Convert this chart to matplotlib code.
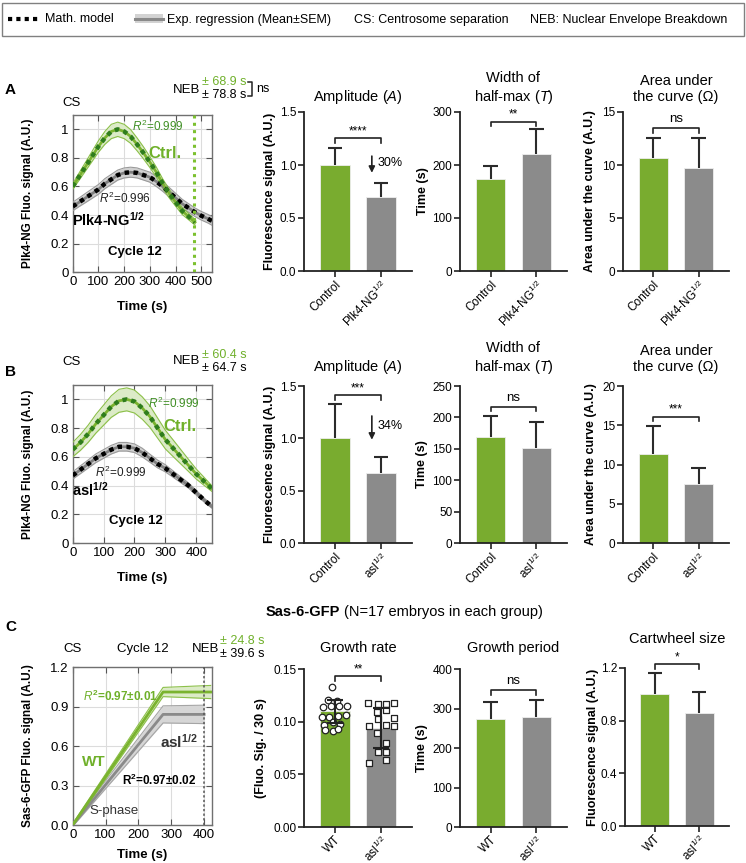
import numpy as np
import matplotlib
matplotlib.use("Agg")
import matplotlib.pyplot as plt
from matplotlib.lines import Line2D
from matplotlib.patches import Rectangle
from matplotlib.ticker import FuncFormatter, FormatStrFormatter

plt.rcParams['font.family'] = ['Liberation Sans', 'DejaVu Sans']
plt.rcParams['mathtext.fontset'] = 'custom'
plt.rcParams['mathtext.rm'] = 'Liberation Sans'
plt.rcParams['mathtext.it'] = 'Liberation Sans:italic'
plt.rcParams['mathtext.bf'] = 'Liberation Sans:bold'

# =========================
# DATA
# =========================
# A: Plk4-NG, control vs Plk4-NG^1/2
t_a_ctrl = [0, 25, 50, 75, 100, 125, 150, 175, 200, 225, 250, 275, 300, 325, 350,
            375, 400, 425, 450, 475]
y_a_ctrl = [0.60, 0.67, 0.74, 0.81, 0.88, 0.94, 0.985, 1.00, 0.985, 0.95, 0.895,
            0.835, 0.77, 0.70, 0.62, 0.55, 0.49, 0.43, 0.39, 0.35]
sem_a_ctrl = [0.02, 0.025, 0.03, 0.035, 0.04, 0.045, 0.05, 0.05, 0.05, 0.048, 0.045,
              0.042, 0.038, 0.035, 0.032, 0.03, 0.028, 0.025, 0.022, 0.02]
t_a_mut = [0, 25, 50, 75, 100, 125, 150, 175, 200, 225, 250, 275, 300, 325, 350,
           375, 400, 425, 450, 475, 500, 525, 540]
y_a_mut = [0.46, 0.49, 0.52, 0.55, 0.58, 0.62, 0.65, 0.68, 0.695, 0.70, 0.695, 0.68,
           0.665, 0.635, 0.60, 0.56, 0.52, 0.48, 0.45, 0.42, 0.395, 0.375, 0.36]
sem_a_mut = [0.03, 0.03, 0.032, 0.033, 0.034, 0.035, 0.035, 0.035, 0.035, 0.035, 0.035,
             0.035, 0.035, 0.035, 0.034, 0.033, 0.032, 0.031, 0.03, 0.03, 0.03, 0.03, 0.03]

# B: Plk4-NG, control vs asl^1/2
t_b = [0, 25, 50, 75, 100, 125, 150, 175, 200, 225, 250, 275, 300, 325, 350, 375,
       400, 425, 450]
y_b_ctrl = [0.65, 0.70, 0.76, 0.83, 0.89, 0.95, 0.99, 1.00, 0.985, 0.94, 0.88, 0.80,
            0.72, 0.66, 0.60, 0.54, 0.48, 0.43, 0.38]
sem_b_ctrl = [0.05, 0.055, 0.06, 0.065, 0.07, 0.075, 0.08, 0.08, 0.08, 0.078, 0.075,
              0.07, 0.065, 0.058, 0.05, 0.042, 0.035, 0.028, 0.02]
y_b_mut = [0.47, 0.51, 0.55, 0.59, 0.62, 0.65, 0.67, 0.67, 0.66, 0.63, 0.59, 0.55,
           0.52, 0.48, 0.44, 0.40, 0.35, 0.30, 0.255]
sem_b_mut = [0.025, 0.027, 0.028, 0.03, 0.03, 0.03, 0.03, 0.03, 0.03, 0.03, 0.028,
             0.027, 0.025, 0.022, 0.02, 0.018, 0.016, 0.014, 0.012]

# C: Sas-6-GFP, WT vs asl^1/2
t_c_wt = [0, 275, 420]
y_c_wt = [0.0, 1.01, 1.01]
sem_c_wt = [0.01, 0.035, 0.05]
t_c_mut = [0, 275, 400]
y_c_mut = [0.0, 0.84, 0.84]
sem_c_mut = [0.01, 0.065, 0.07]

# bar charts
amp_a, amp_a_err = [1.00, 0.70], [0.16, 0.13]
width_a, width_a_err = [173, 220], [25, 47]
area_a, area_a_err = [10.65, 9.7], [1.85, 2.8]
amp_b, amp_b_err = [1.00, 0.67], [0.33, 0.15]
width_b, width_b_err = [169, 151], [33, 41]
area_b, area_b_err = [11.3, 7.5], [3.6, 2.1]
rate_c, rate_c_err = [0.110, 0.094], [0.011, 0.019]
period_c, period_c_err = [273, 278], [43, 43]
size_c, size_c_err = [1.00, 0.86], [0.16, 0.155]

# growth rate, individual embryos
rate_wt_pts = [0.1326, 0.1205, 0.1196, 0.1142, 0.1148, 0.1151, 0.1151, 0.1047, 0.1047,
               0.1056, 0.106, 0.0967, 0.0999, 0.0977, 0.092, 0.0913, 0.0935]
rate_wt_dx = [-0.06, -0.15, 0.04, -0.25, -0.09, 0.09, 0.26, -0.28, -0.12, 0.06, 0.24,
              -0.24, -0.05, 0.10, -0.21, -0.05, 0.07]
rate_mut_pts = [0.1173, 0.1167, 0.1164, 0.1173, 0.1094, 0.111, 0.103, 0.1037, 0.0958,
                0.0967, 0.0958, 0.0888, 0.080, 0.0714, 0.0714, 0.0612, 0.064]
rate_mut_dx = [-0.28, -0.07, 0.11, 0.27, -0.08, 0.11, -0.07, 0.27, -0.26, 0.11, 0.27,
               -0.08, 0.11, -0.07, 0.11, -0.26, 0.10]

labels_a = ['Control', 'Plk4-NG$^{1/2}$']
labels_b = ['Control', 'asl$^{1/2}$']
labels_c = ['WT', 'asl$^{1/2}$']

# =========================
# STYLE
# =========================
GREEN = '#79ac2f'
GREEN_TXT = '#6fb02a'
DKGREEN = '#2f7d1c'
GRAY = '#8b8b8b'
W, H = 746, 863

fig = plt.figure(figsize=(W / 100, H / 100), dpi=100)


def px_axes(x0, y0, x1, y1):
    return fig.add_axes([x0 / W, 1 - y1 / H, (x1 - x0) / W, (y1 - y0) / H])


def ftext(x, y, s, **kw):
    kw.setdefault('va', 'center')
    fig.text(x / W, 1 - y / H, s, **kw)


def fline(xs, ys, **kw):
    fig.add_artist(Line2D([x / W for x in xs], [1 - y / H for y in ys],
                          transform=fig.transFigure, **kw))


def line_axes(rect, xlim, xticks, ylim, yticks, yfmt, ylabel, xlabel_y, fs=9.5):
    ax = px_axes(*rect)
    ax.set_xlim(*xlim)
    ax.set_ylim(*ylim)
    ax.set_xticks(xticks)
    ax.set_yticks(yticks)
    ax.yaxis.set_major_formatter(yfmt)
    for s in ax.spines.values():
        s.set_color('#707070')
        s.set_linewidth(1.0)
    ax.tick_params(direction='in', top=True, right=True, length=4, width=0.8,
                   color='#555555', labelsize=fs, pad=3)
    ax.grid(True, color='#dcdcdc', lw=0.8)
    ax.set_axisbelow(True)
    ax.set_ylabel(ylabel, fontweight='bold', fontsize=8.5, va='center')
    ax.yaxis.set_label_coords((28 - rect[0]) / (rect[2] - rect[0]), 0.5)
    ax.set_xlabel('Time (s)', fontweight='bold', fontsize=9.5, va='center')
    ax.xaxis.set_label_coords(0.5, -(xlabel_y - rect[3]) / (rect[3] - rect[1]))
    return ax


def curve(ax, t, y, sem, line_c, band_c, edge_c, model_c=None):
    t, y, s = np.array(t), np.array(y), np.array(sem)
    ax.fill_between(t, y - s, y + s, color=band_c, lw=0, zorder=2)
    ax.plot(t, y - s, color=edge_c, lw=0.8, zorder=3)
    ax.plot(t, y + s, color=edge_c, lw=0.8, zorder=3)
    ax.plot(t, y, color=line_c, lw=2, zorder=4)
    if model_c:
        ax.plot(t, y, color=model_c, lw=3.2, ls=(0, (1, 1)), zorder=5)


def bracket(ax, y, txt, top):
    d = 0.03 * top
    ax.plot([0, 0, 1, 1], [y - d, y, y, y - d], color='#222222', lw=1.2,
            clip_on=False, zorder=5)
    if txt == 'ns':
        ax.text(0.5, y + 0.02 * top, txt, ha='center', va='bottom', fontsize=9.5)
    else:
        ax.text(0.5, y + 0.005 * top, txt, ha='center', va='bottom', fontsize=8.5)


def bar_axes(rect, vals, errs, ylim, yticks, fmt, ylabel, ylabel_x, title, labels,
             sig, sig_y, title_pad=8, two_sided=False, xfs=8.5):
    ax = px_axes(*rect)
    x = np.arange(2)
    vals, errs = np.array(vals), np.array(errs)
    ax.bar(x, vals, width=0.65, color=[GREEN, GRAY], edgecolor='#eeeeee', lw=0.6,
           zorder=2)
    if two_sided:
        ax.vlines(x, vals - errs, vals + errs, color='#222222', lw=1.5, zorder=6)
        ax.hlines(vals - errs, x - 0.18, x + 0.18, color='#222222', lw=1.5, zorder=6)
        ax.hlines(vals + errs, x - 0.18, x + 0.18, color='#222222', lw=1.5, zorder=6)
    else:
        ax.vlines(x, vals, vals + errs, color='#2b2b2b', lw=1.5, zorder=3)
        ax.hlines(vals + errs, x - 0.16, x + 0.16, color='#2b2b2b', lw=1.5, zorder=3)
    ax.set_xlim(-0.67, 1.67)
    ax.set_ylim(*ylim)
    ax.set_yticks(yticks)
    ax.yaxis.set_major_formatter(FormatStrFormatter(fmt))
    ax.set_xticks(x)
    ax.set_xticklabels(labels, rotation=45, ha='right', rotation_mode='anchor',
                       fontsize=xfs)
    for side in ('top', 'right'):
        ax.spines[side].set_visible(False)
    for side in ('left', 'bottom'):
        ax.spines[side].set_linewidth(1.3)
        ax.spines[side].set_color('#222222')
    ax.tick_params(direction='out', length=4, width=1.2, color='#222222',
                   labelsize=8.5, pad=1.5)
    ax.tick_params(axis='x', pad=1 if xfs < 8 else 1.5)
    ax.set_ylabel(ylabel, fontweight='bold', fontsize=9, va='center')
    ax.yaxis.set_label_coords((ylabel_x - rect[0]) / (rect[2] - rect[0]), 0.5)
    ax.set_title(title, fontsize=10.5, pad=title_pad)
    bracket(ax, sig_y, sig, ylim[1])
    return ax


# =========================
# KEY BOX
# =========================
fig.add_artist(Rectangle((2 / W, 1 - 36 / H), 742 / W, 33 / H, transform=fig.transFigure,
                         fill=False, edgecolor='#808080', lw=1))
fline([8, 40], [19, 19], color='black', lw=3, ls=(0, (1, 1)))
ftext(45, 19.5, 'Math. model', fontsize=9)
fig.add_artist(Rectangle((135 / W, 1 - 23.5 / H), 28 / W, 9 / H, transform=fig.transFigure,
                         color='#d3d3d3', lw=0))
fline([135, 163], [19, 19], color='#8a8a8a', lw=2.2)
ftext(167, 19.5, 'Exp. regression (Mean±SEM)', fontsize=9)
ftext(354, 19.5, 'CS: Centrosome separation', fontsize=9)
ftext(530, 19.5, 'NEB: Nuclear Envelope Breakdown', fontsize=9)

gfmt = FuncFormatter(lambda v, p: f'{v:g}')

# =========================
# PANEL A
# =========================
rect = (72.7, 115, 211.7, 272.3)
ax = line_axes(rect, (0, 540), [0, 100, 200, 300, 400, 500], (0, 1.1),
               [0, 0.2, 0.4, 0.6, 0.8, 1.0], gfmt, 'Plk4-NG Fluo. signal (A.U.)', 307)
curve(ax, t_a_mut, y_a_mut, sem_a_mut, '#808080', '#d0d0d0', '#9a9a9a', 'black')
curve(ax, t_a_ctrl, y_a_ctrl, sem_a_ctrl, '#7ab32f', '#dcebc7', '#8cc049', DKGREEN)
ax.axvline(470, color='#7cc12f', lw=2.2, ls=(0, (1, 1.4)), zorder=6)
ax.text(330, 1.02, '$R^2$=0.999', color='#3f8f24', fontsize=8.5, ha='center', va='center')
ax.text(358, 0.83, 'Ctrl.', color=GREEN_TXT, fontsize=12, fontweight='bold',
        ha='center', va='center')
ax.text(203, 0.52, '$R^2$=0.996', color='#222222', fontsize=8.5, ha='center', va='center')
ax.text(137, 0.37, r'Plk4-NG$^{\mathbf{1/2}}$', fontsize=10.5, fontweight='bold',
        ha='center', va='center')
ax.text(241, 0.14, 'Cycle 12', fontsize=9.5, fontweight='bold', ha='center', va='center')

ftext(5, 90, 'A', fontsize=11, fontweight='bold')
ftext(72, 103, 'CS', fontsize=9.5, ha='center')
ftext(200, 90, 'NEB', fontsize=9.5, ha='right')
ftext(202, 82, '± 68.9 s', fontsize=9, color=GREEN_TXT)
ftext(202, 95, '± 78.8 s', fontsize=9)
fline([248, 252, 252, 248], [82, 82, 96, 96], color='#222222', lw=1.1)
ftext(256, 89, 'ns', fontsize=9)

bar_axes((304, 112, 412, 271), amp_a, amp_a_err, (0, 1.5), [0, 0.5, 1.0, 1.5], '%.1f',
         'Fluorescence signal (A.U.)', 270, 'Amplitude ($A$)', labels_a, '****', 1.25)
axa = fig.axes[-1]
axa.annotate('', xy=(0.8, 0.9), xytext=(0.8, 1.11),
             arrowprops=dict(arrowstyle='-|>', color='#222222', lw=1.2, mutation_scale=9))
axa.text(0.92, 1.02, '30%', fontsize=9, va='center')
bar_axes((460, 112, 567, 271), width_a, width_a_err, (0, 300), [0, 100, 200, 300], '%d',
         'Time (s)', 423, 'Width of\nhalf-max ($T$)', labels_a, '**', 282)
bar_axes((623, 112, 729, 271), area_a, area_a_err, (0, 15), [0, 5, 10, 15], '%d',
         'Area under the curve (A.U.)', 590, 'Area under\nthe curve (Ω)', labels_a,
         'ns', 13.5)

# =========================
# PANEL B
# =========================
rect = (72.7, 385, 211.7, 543)
ax = line_axes(rect, (0, 450), [0, 100, 200, 300, 400], (0, 1.1),
               [0, 0.2, 0.4, 0.6, 0.8, 1.0], gfmt, 'Plk4-NG Fluo. signal (A.U.)', 578)
curve(ax, t_b, y_b_mut, sem_b_mut, '#808080', '#d0d0d0', '#9a9a9a', 'black')
curve(ax, t_b, y_b_ctrl, sem_b_ctrl, '#7ab32f', '#dcebc7', '#8cc049', DKGREEN)
ax.text(329, 0.975, '$R^2$=0.999', color='#3f8f24', fontsize=8.5, ha='center', va='center')
ax.text(347, 0.81, 'Ctrl.', color=GREEN_TXT, fontsize=12, fontweight='bold',
        ha='center', va='center')
ax.text(156, 0.49, '$R^2$=0.999', color='#222222', fontsize=8.5, ha='center', va='center')
ax.text(56, 0.37, r'asl$^{\mathbf{1/2}}$', fontsize=10.5, fontweight='bold',
        ha='center', va='center')
ax.text(205, 0.15, 'Cycle 12', fontsize=9.5, fontweight='bold', ha='center', va='center')

ftext(5, 372, 'B', fontsize=11, fontweight='bold')
ftext(72, 362, 'CS', fontsize=9.5, ha='center')
ftext(200, 361, 'NEB', fontsize=9.5, ha='right')
ftext(202, 355, '± 60.4 s', fontsize=9, color=GREEN_TXT)
ftext(202, 368, '± 64.7 s', fontsize=9)

bar_axes((304, 386, 412, 543), amp_b, amp_b_err, (0, 1.5), [0, 0.5, 1.0, 1.5], '%.1f',
         'Fluorescence signal (A.U.)', 270, 'Amplitude ($A$)', labels_b, '***', 1.41,
         title_pad=11)
axb = fig.axes[-1]
axb.annotate('', xy=(0.8, 0.96), xytext=(0.8, 1.24),
             arrowprops=dict(arrowstyle='-|>', color='#222222', lw=1.2, mutation_scale=9))
axb.text(0.92, 1.12, '34%', fontsize=9, va='center')
bar_axes((460, 386, 567, 543), width_b, width_b_err, (0, 250), [0, 50, 100, 150, 200, 250],
         '%d', 'Time (s)', 422, 'Width of\nhalf-max ($T$)', labels_b, 'ns', 217,
         title_pad=11)
bar_axes((623, 386, 729, 543), area_b, area_b_err, (0, 20), [0, 5, 10, 15, 20], '%d',
         'Area under the curve (A.U.)', 591, 'Area under\nthe curve (Ω)', labels_b,
         '***', 16.1, title_pad=11)

# =========================
# PANEL C
# =========================
rect = (72.7, 667, 211.7, 825)
ax = line_axes(rect, (0, 423), [0, 100, 200, 300, 400], (0, 1.2),
               [0, 0.3, 0.6, 0.9, 1.2], FormatStrFormatter('%.1f'),
               'Sas-6-GFP Fluo. signal (A.U.)', 855)
curve(ax, t_c_mut, y_c_mut, sem_c_mut, '#8a8a8a', '#d6d6d6', '#a5a5a5')
curve(ax, t_c_wt, y_c_wt, sem_c_wt, '#7ab32f', '#dcebc7', '#8cc049')
ax.axvline(400, color='#555555', lw=1.1, ls=(0, (1.5, 1.5)), zorder=6)
ax.text(144, 0.98, '$\\mathbf{\\mathit{R}^2}$=0.97±0.01', color=GREEN_TXT, fontsize=8.5,
        fontweight='bold', ha='center', va='center')
ax.text(324, 0.63, r'asl$^{\mathbf{1/2}}$', fontsize=11, fontweight='bold',
        ha='center', va='center', color='#333333')
ax.text(65, 0.48, 'WT', fontsize=11, fontweight='bold', color=GREEN_TXT,
        ha='center', va='center')
ax.text(262, 0.336, r'R$^{\mathbf{2}}$=0.97±0.02', fontsize=8.5, fontweight='bold',
        ha='center', va='center')
ax.text(126, 0.11, 'S-phase', fontsize=9.5, ha='center', va='center', color='#333333')

ftext(5, 627, 'C', fontsize=11, fontweight='bold')
ftext(340, 612, 'Sas-6-GFP', fontsize=10.5, fontweight='bold', ha='right')
ftext(344, 612, '(N=17 embryos in each group)', fontsize=10.5)
ftext(73, 649, 'CS', fontsize=9.5, ha='center')
ftext(143, 649, 'Cycle 12', fontsize=9.5, ha='center')
ftext(206, 649, 'NEB', fontsize=9.5, ha='center')
ftext(220, 641, '± 24.8 s', fontsize=9, color=GREEN_TXT)
ftext(220, 654, '± 39.6 s', fontsize=9)

axc = bar_axes((304, 669, 412, 827), rate_c, rate_c_err, (0, 0.15),
               [0, 0.05, 0.10, 0.15], '%.2f', '(Fluo. Sig. / 30 s)', 261, 'Growth rate',
               labels_c, '**', 0.143, title_pad=12, two_sided=True, xfs=7)
axc.scatter(np.array(rate_wt_dx), rate_wt_pts, s=22, marker='o', facecolor='white',
            edgecolor='#222222', lw=0.9, zorder=4)
axc.scatter(1 + np.array(rate_mut_dx), rate_mut_pts, s=20, marker='s', facecolor='white',
            edgecolor='#222222', lw=0.9, zorder=4)
bar_axes((460, 669, 567, 827), period_c, period_c_err, (0, 400), [0, 100, 200, 300, 400],
         '%d', 'Time (s)', 422, 'Growth period', labels_c, 'ns', 347, title_pad=12,
         xfs=7)
bar_axes((625, 668, 729, 826), size_c, size_c_err, (0, 1.2), [0, 0.4, 0.8, 1.2], '%.1f',
         'Fluorescence signal (A.U.)', 593, 'Cartwheel size', labels_c, '*', 1.23,
         title_pad=18, xfs=7)

fig.savefig('out.png', dpi=100)
